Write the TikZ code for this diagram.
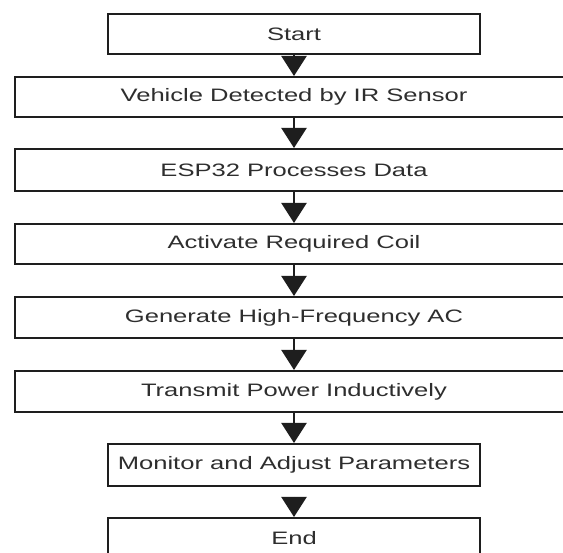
\documentclass[tikz,border=0pt]{standalone}
\usepackage{fontspec}
\setmainfont{Liberation Sans}[FakeStretch=1.42]
\usetikzlibrary{arrows.meta}
\definecolor{linec}{HTML}{1E1E1E}
\definecolor{textc}{HTML}{2E2E2E}
\begin{document}
\begin{tikzpicture}[x=1pt,y=-1pt,
  box/.style={draw=linec, line width=2.4pt, fill=white, inner sep=0pt,
    font=\fontsize{18}{22}\selectfont, text=textc},
  nbox/.style={box, minimum width=371.6pt},
  wbox/.style={box, minimum width=557.6pt},
  flow/.style={draw=linec, line width=2.2pt, -{Triangle[width=25pt,length=20pt]}}]
\useasboundingbox (0,0) rectangle (563,553);
\clip (0,0) rectangle (563,553);
\fill[white] (0,0) rectangle (563,553);
\node[nbox, minimum height=39.6pt] (start) at (294,34) {Start};
\node[wbox, minimum height=39.6pt] (veh) at (294,97) {Vehicle Detected by IR Sensor};
\node[wbox, minimum height=41.6pt] (esp) at (294,170) {ESP32 Processes Data};
\node[wbox, minimum height=39.6pt] (coil) at (294,244) {Activate Required Coil};
\node[wbox, minimum height=40.6pt] (gen) at (294,317.5) {Generate High-Frequency AC};
\node[wbox, minimum height=40.6pt] (tx) at (294,391.5) {Transmit Power Inductively};
\node[nbox, minimum height=41.6pt] (mon) at (294,465) {Monitor and Adjust Parameters};
\node[nbox, minimum height=40.6pt] (end) at (294,538.5) {End};
\draw[flow] (start) -- (veh);
\draw[flow] (veh) -- (esp);
\draw[flow] (esp) -- (coil);
\draw[flow] (coil) -- (gen);
\draw[flow] (gen) -- (tx);
\draw[flow] (tx) -- (mon);
\draw[flow, shorten <=10pt] (mon) -- (end);
\end{tikzpicture}
\end{document}
